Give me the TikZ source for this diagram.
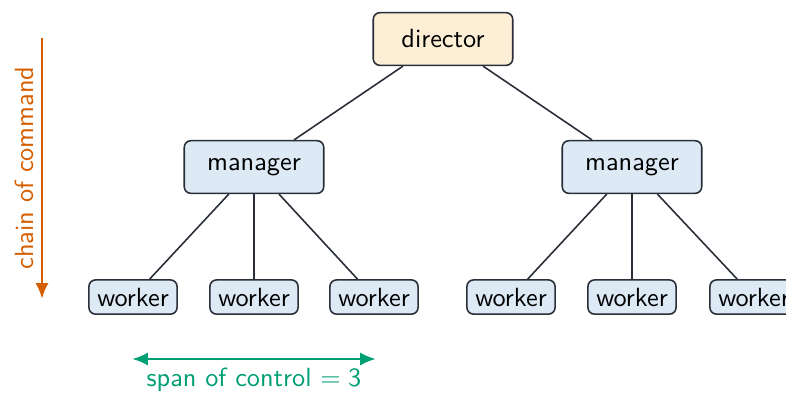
\documentclass[tikz,border=0pt]{standalone}
\usetikzlibrary{arrows.meta}
\renewcommand{\familydefault}{\sfdefault}

\definecolor{bossfill}{HTML}{FCEFD6}
\definecolor{staffill}{HTML}{DDEAF5}
\definecolor{edgecol}{HTML}{2A2E38}
\definecolor{chaincol}{HTML}{D55E00}
\definecolor{spancol}{HTML}{009E73}

\newcommand*{\picw}{786}
\newcommand*{\pich}{392}

\begin{document}
\begin{tikzpicture}
[
	x=0.38pt, y=-0.38pt,
	box/.style={draw=edgecol,line width=0.6pt,rounded corners=2.5pt,inner sep=0pt,font=\normalsize},
	boss/.style={box,fill=bossfill,minimum width=53pt,minimum height=20pt},
	mgr/.style={box,fill=staffill,minimum width=53pt,minimum height=20pt},
	wkr/.style={box,fill=staffill,minimum width=33.5pt,minimum height=13pt},
	link/.style={draw=edgecol,line width=0.6pt},
	bigtip/.tip={Latex[length=6pt,width=5pt]}
]
	\useasboundingbox (0,0) rectangle (\picw,\pich);

	% hierarchy
	\node[boss] at (443,39) (dir) {director};
	\node[mgr] at (254,167) (mgrA) {manager};
	\node[mgr] at (632,167) (mgrB) {manager};

	\node[wkr] at (133,297) (wA1) {worker};
	\node[wkr] at (254,297) (wA2) {worker};
	\node[wkr] at (374,297) (wA3) {worker};
	\node[wkr] at (511,297) (wB1) {worker};
	\node[wkr] at (632,297) (wB2) {worker};
	\node[wkr] at (754,297) (wB3) {worker};

	\draw[link] (dir) -- (mgrA);
	\draw[link] (dir) -- (mgrB);
	\foreach \w in {wA1,wA2,wA3} \draw[link] (mgrA) -- (\w);
	\foreach \w in {wB1,wB2,wB3} \draw[link] (mgrB) -- (\w);

	% chain of command
	\coordinate (chainTop) at (42,38);
	\coordinate (chainEnd) at (42,299);
	\draw[-bigtip,chaincol,line width=1.1pt] (chainTop) -- (chainEnd);
	\node[rotate=90,chaincol] at (24,168) (chainLbl) {chain of command};

	% span of control
	\coordinate (spanL) at (132,359);
	\coordinate (spanR) at (376,359);
	\draw[bigtip-bigtip,spancol,line width=1.1pt] (spanL) -- (spanR);
	\node[spancol] at (254,380) (spanLbl) {span of control $=\mathsf{3}$};

\end{tikzpicture}
\end{document}
